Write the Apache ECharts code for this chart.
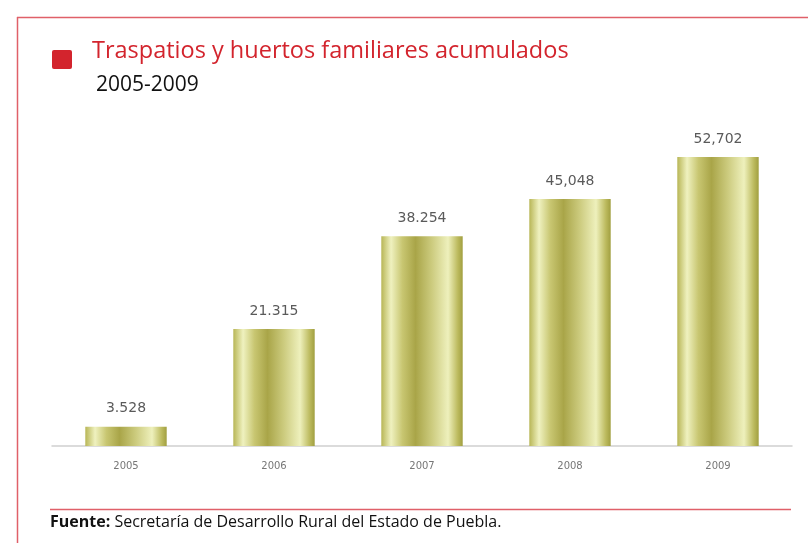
<!DOCTYPE html>
<html lang="es">
<head>
    <meta charset="UTF-8"/>
    <title>Traspatios y huertos familiares</title>
    <script src="https://cdn.jsdelivr.net/npm/echarts@6/dist/echarts.min.js"></script>
    <style>
        html, body { margin: 0; padding: 0; background: #fff; }
        #main { width: 808px; height: 543px; }
    </style>
</head>
<body>
<div id="main"></div>

<script type="text/javascript">
    // datos
    var years = ['2005', '2006', '2007', '2008', '2009'];
    var values = [3528, 21315, 38254, 45048, 52702];
    var valueLabels = ['3.528', '21.315', '38.254', '45,048', '52,702'];

    var myChart = echarts.init(document.getElementById('main'));

    // degradado tipo cilindro dorado/oliva
    var barFill = new echarts.graphic.LinearGradient(0, 0, 1, 0, [
        { offset: 0, color: '#b8b656' },
        { offset: 0.12, color: '#eff1bf' },
        { offset: 0.26, color: '#c8c671' },
        { offset: 0.42, color: '#a9a548' },
        { offset: 0.62, color: '#cccb7e' },
        { offset: 0.82, color: '#eef0bc' },
        { offset: 0.94, color: '#bcba5e' },
        { offset: 1, color: '#a19f40' }
    ]);

    var option = {
        animation: false,
        graphic: [
            // marco rojo
            { type: 'line', shape: { x1: 17, y1: 17.5, x2: 808, y2: 17.5 }, style: { stroke: '#e06069', lineWidth: 1.5 } },
            { type: 'line', shape: { x1: 17.5, y1: 17, x2: 17.5, y2: 543 }, style: { stroke: '#e06069', lineWidth: 1.5 } },
            // cuadro del título
            { type: 'rect', shape: { x: 52, y: 50, width: 20, height: 19, r: 2 }, style: { fill: '#d3242d' } },
            { type: 'text', left: 92, top: 39, style: { text: 'Traspatios y huertos familiares acumulados', fill: '#d3242d', font: '23.5px "Open Sans", sans-serif' } },
            { type: 'text', left: 96, top: 75, style: { text: '2005-2009', fill: '#111', font: '21px "Open Sans", sans-serif' } },
            // línea y fuente
            { type: 'line', shape: { x1: 50, y1: 509.5, x2: 791, y2: 509.5 }, style: { stroke: '#e06069', lineWidth: 1.5 } },
            { type: 'text', left: 50, top: 514, style: {
                text: '{b|Fuente:} Secretaría de Desarrollo Rural del Estado de Puebla.',
                font: '16px "Open Sans", sans-serif', fill: '#111',
                rich: { b: { fontWeight: 'bold', fontSize: 16, fontFamily: 'Open Sans', fill: '#111' } }
            } }
        ],
        grid: { left: 52, right: 16, top: 117, bottom: 97 },
        xAxis: {
            type: 'category',
            data: years,
            axisLine: { lineStyle: { color: '#cfcfcf', width: 1.5 } },
            axisTick: { show: false },
            axisLabel: { color: '#777', fontSize: 10, margin: 15, fontFamily: 'DejaVu Sans' }
        },
        yAxis: {
            type: 'value',
            min: 0,
            max: 60000,
            show: false,
            splitLine: { show: false }
        },
        series: [{
            type: 'bar',
            data: values,
            barWidth: '55%',
            itemStyle: { color: barFill },
            label: {
                show: true,
                position: 'top',
                distance: 11,
                color: '#5a5a5a',
                fontSize: 14,
                fontFamily: 'DejaVu Sans',
                formatter: function (p) { return valueLabels[p.dataIndex]; }
            }
        }]
    };

    myChart.setOption(option);
</script>
</body>
</html>
